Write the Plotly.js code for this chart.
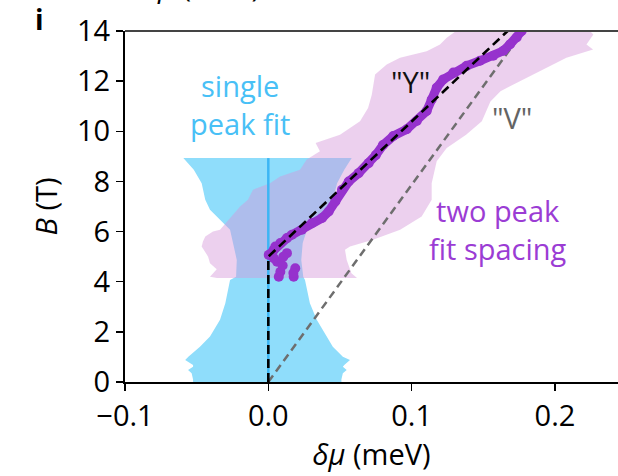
<!DOCTYPE html>
<html>
<head>
<meta charset="utf-8">
<script src="https://cdn.plot.ly/plotly-3.0.1.min.js"></script>
<style>html,body{margin:0;padding:0;background:#fff;}#chart{width:618px;height:476px;}</style>
</head>
<body>
<div id="chart"></div>
<script>
// ---- single peak fit uncertainty band (blue) ----
const blueB     = [0.0, 0.1, 0.35, 0.48, 0.61, 0.68, 0.88, 1.01, 1.41, 1.81, 2.48, 3.14, 4.07, 4.2, 4.87, 5.54, 6.07, 6.47, 6.87, 7.27, 7.93, 8.47, 8.93];
const blueLeft  = [-0.0525, -0.0525, -0.0535, -0.056, -0.0525, -0.0525, -0.058, -0.0558, -0.0477, -0.0407, -0.0337, -0.030, -0.0267, -0.0225, -0.022, -0.0244, -0.0267, -0.0337, -0.0407, -0.044, -0.0465, -0.052, -0.0593];
const blueRight = [0.051, 0.051, 0.052, 0.0547, 0.052, 0.053, 0.057, 0.052, 0.045, 0.0407, 0.0338, 0.029, 0.0256, 0.0244, 0.023, 0.024, 0.027, 0.034, 0.040, 0.045, 0.048, 0.053, 0.0582];
// single peak fit centre
const singleX = [0, 0];
const singleB = [0, 8.93];

// ---- two peak fit spacing uncertainty band (pink) ----
const pinkLeftB  = [4.15, 4.2, 4.5, 4.74, 5.0, 5.4, 5.6, 5.8, 6.0, 6.07, 7.0, 7.27, 7.67, 7.93, 8.2, 8.47, 8.87, 9.2, 9.53, 9.86, 10.4, 10.93, 11.46, 12.26, 12.66, 12.93, 13.19, 13.46, 13.73, 14.0];
const pinkLeftX  = [-0.0358, -0.0407, -0.036, -0.0407, -0.042, -0.0465, -0.0456, -0.044, -0.0386, -0.0337, -0.0197, -0.0142, -0.0107, 0.0012, 0.0082, 0.0221, 0.0268, 0.036, 0.033, 0.05, 0.064, 0.0696, 0.0722, 0.0745, 0.0826, 0.0919, 0.1105, 0.1198, 0.1245, 0.131];
const pinkRightB = [14.0, 13.86, 13.46, 13.26, 12.93, 12.53, 12.26, 12.0, 11.6, 11.19, 10.8, 10.4, 9.86, 9.33, 8.8, 7.93, 7.27, 6.6, 6.07, 5.67, 5.4, 5.27, 4.87, 4.34, 4.15];
const pinkRightX = [0.2245, 0.2268, 0.222, 0.2266, 0.208, 0.194, 0.185, 0.176, 0.162, 0.155, 0.152, 0.149, 0.138, 0.1245, 0.1175, 0.114, 0.114, 0.107, 0.092, 0.073, 0.057, 0.0535, 0.0547, 0.058, 0.0619];

// ---- two peak fit spacing points (purple) ----
// continuous trail of points
const trailX = [0.0003, 0.0038, 0.0084, 0.013, 0.0165, 0.0235, 0.0305, 0.0375, 0.0421, 0.0468, 0.0514, 0.0561, 0.063, 0.070, 0.075, 0.080, 0.0872, 0.0966, 0.1036, 0.1105, 0.114, 0.1175, 0.1221, 0.1291, 0.1384, 0.1477, 0.157, 0.164, 0.1687, 0.1733, 0.1768];
const trailB = [5.07, 5.27, 5.54, 5.74, 5.87, 6.07, 6.34, 6.54, 6.8, 7.2, 7.67, 8.0, 8.33, 8.73, 9.05, 9.45, 9.81, 10.08, 10.41, 10.81, 11.27, 11.74, 12.07, 12.34, 12.61, 12.81, 13.01, 13.21, 13.47, 13.74, 14.0];
// scattered low-field points
const scatterX = [0.0049, 0.013, 0.0061, 0.0038, 0.0084, 0.0073, 0.0188, 0.0177, 0.010, 0.0105, 0.0175];
const scatterB = [5.4, 5.14, 4.8, 4.94, 4.4, 4.2, 4.54, 4.2, 4.65, 5.0, 4.35];

// ---- model lines ----
const yModelX = [0, 0, 0.167];
const yModelB = [0, 5.0, 14];
const vModelX = [0, 0.178];
const vModelB = [0, 14];

// ---- tick labels ----
const xTickVals = [-0.1, 0.0, 0.1, 0.2];
const xTickText = ['\u22120.1', '0.0', '0.1', '0.2'];
const yTickVals = [0, 2, 4, 6, 8, 10, 12, 14];

const FONT = 'Open Sans, Lato, sans-serif';
const PURPLE = 'rgb(150,50,205)';

const blueBandX = blueLeft.concat(blueRight.slice().reverse());
const blueBandY = blueB.concat(blueB.slice().reverse());
const pinkBandX = pinkLeftX.concat(pinkRightX);
const pinkBandY = pinkLeftB.concat(pinkRightB);

const traces = [
  {x: blueBandX, y: blueBandY, type: 'scatter', mode: 'lines', fill: 'toself',
   fillcolor: 'rgb(143,221,251)', line: {width: 0}, hoverinfo: 'skip', showlegend: false},
  {x: pinkBandX, y: pinkBandY, type: 'scatter', mode: 'lines', fill: 'toself',
   fillcolor: 'rgba(213,151,217,0.45)', line: {width: 0}, hoverinfo: 'skip', showlegend: false},
  {x: singleX, y: singleB, type: 'scatter', mode: 'lines',
   line: {color: 'rgb(60,182,245)', width: 2.5}, showlegend: false},
  {x: vModelX, y: vModelB, type: 'scatter', mode: 'lines',
   line: {color: 'rgb(110,110,110)', width: 2.5, dash: '8px,5px'}, showlegend: false},
  {x: trailX, y: trailB, type: 'scatter', mode: 'lines+markers',
   line: {color: PURPLE, width: 9}, marker: {color: PURPLE, size: 10, line: {width: 0}}, showlegend: false},
  {x: scatterX, y: scatterB, type: 'scatter', mode: 'markers',
   marker: {color: PURPLE, size: 10, line: {width: 0}}, showlegend: false},
  {x: yModelX, y: yModelB, type: 'scatter', mode: 'lines',
   line: {color: '#000', width: 2.6, dash: '9px,5px'}, showlegend: false}
];

const annFont = (c) => ({family: FONT, size: 29, color: c});
const layout = {
  width: 618, height: 476,
  margin: {l: 125, r: 0, t: 31, b: 94},
  paper_bgcolor: '#fff', plot_bgcolor: 'rgba(0,0,0,0)',
  font: {family: FONT, size: 29, color: '#000'},
  showlegend: false,
  xaxis: {
    range: [-0.1, 0.244], showgrid: false, zeroline: false,
    showline: true, linecolor: '#000', linewidth: 2,
    ticks: 'outside', ticklen: 7, tickwidth: 1.5, tickcolor: '#000',
    tickvals: xTickVals, ticktext: xTickText,
    tickfont: {family: FONT, size: 29, color: '#000'},
    title: {text: '<i>δμ</i> (meV)', font: {family: FONT, size: 29, color: '#000'}, standoff: 9}
  },
  yaxis: {
    range: [0, 14], showgrid: false, zeroline: false,
    showline: true, linecolor: '#000', linewidth: 2,
    ticks: 'outside', ticklen: 7, tickwidth: 1.5, tickcolor: '#000',
    tickvals: yTickVals,
    tickfont: {family: FONT, size: 29, color: '#000'},
    title: {text: '<i>B</i> (T)', font: {family: FONT, size: 29, color: '#000'}, standoff: 11}
  },
  shapes: [
    {type: 'line', xref: 'paper', yref: 'paper', x0: 0, x1: 1, y0: 1, y1: 1,
     line: {color: '#444', width: 2}}
  ],
  annotations: [
    {xref: 'x', yref: 'y', x: -0.0197, y: 11.08, text: 'single<br>peak fit', showarrow: false, font: annFont('rgb(72,192,246)')},
    {xref: 'x', yref: 'y', x: 0.0989, y: 11.98, text: '"Y"', showarrow: false, font: annFont('#111')},
    {xref: 'x', yref: 'y', x: 0.170, y: 10.54, text: '"V"', showarrow: false, font: annFont('rgb(100,100,100)')},
    {xref: 'x', yref: 'y', x: 0.160, y: 6.07, text: 'two peak<br>fit spacing', showarrow: false, font: annFont('rgb(155,60,212)')},
    {xref: 'paper', yref: 'paper', x: 0, y: 1, xshift: -86, yshift: 12, xanchor: 'center', yanchor: 'middle',
     text: '<b>i</b>', showarrow: false, font: {family: FONT, size: 28, color: '#000'}},
    {xref: 'paper', yref: 'paper', x: 0, y: 1, xshift: 76, yshift: 24, xanchor: 'center', yanchor: 'bottom',
     text: '<i>δμ</i> (meV)', showarrow: false, font: {family: FONT, size: 29, color: '#000'}}
  ]
};

Plotly.newPlot('chart', traces, layout, {displayModeBar: false, staticPlot: true});
</script>
</body>
</html>
